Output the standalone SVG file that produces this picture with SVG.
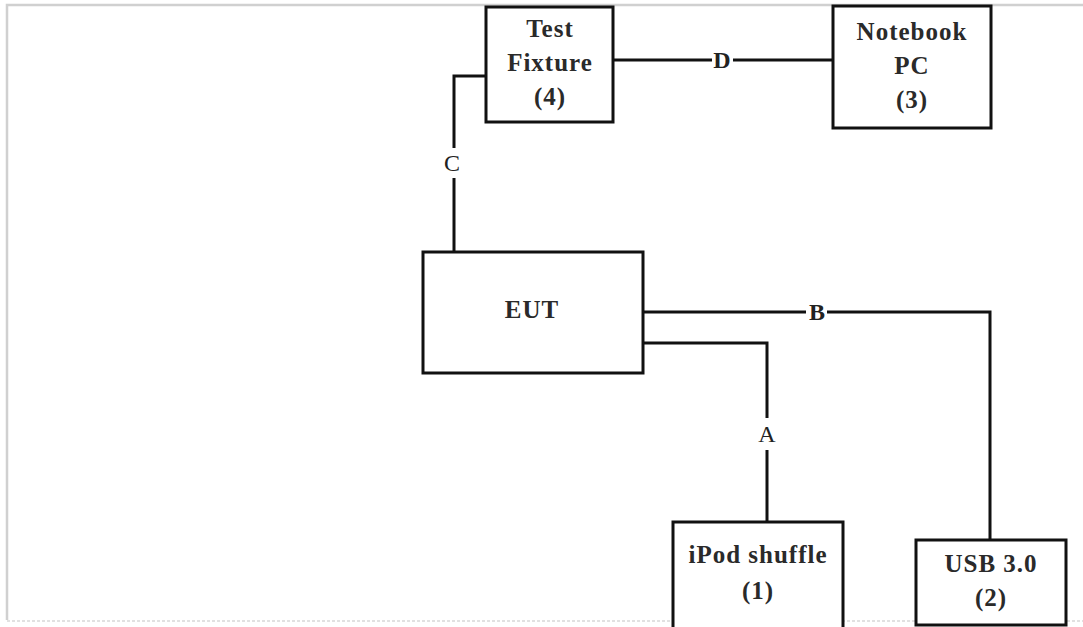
<svg xmlns="http://www.w3.org/2000/svg" width="1083" height="627" viewBox="0 0 1083 627">
<style>
.box{fill:#fff;stroke:#111;stroke-width:3}
.t{font-family:"Liberation Serif","Times New Roman",serif;font-size:25px;font-weight:bold;fill:#2a2a2a;text-anchor:middle;letter-spacing:1px}
.w{fill:none;stroke:#111;stroke-width:3}
.lbl{font-family:"Liberation Serif","Times New Roman",serif;font-size:24px;fill:#222;text-anchor:middle}
.frame{fill:none;stroke:#d0d0d0;stroke-width:2.5}
</style>
<rect width="1083" height="627" fill="#fff"/>
<path class="frame" d="M7,620 V5 H1083"/>
<line x1="7" y1="621" x2="1083" y2="621" stroke="#d8d8d8" stroke-width="1.5" stroke-dasharray="3,2"/>
<g id="connectors">
<path class="w" d="M613,60 H712 M733,60 H833"/>
<path class="w" d="M486,76 H454 V148 M454,178 V252"/>
<path class="w" d="M643,312 H806 M827,312 H990 V540"/>
<path class="w" d="M643,343 H767 V418 M767,450 V522"/>
<text class="lbl" x="452" y="171">C</text>
<text class="lbl" x="722" y="68" font-weight="bold">D</text>
<text class="lbl" x="817" y="320" font-weight="bold">B</text>
<text class="lbl" x="767" y="442">A</text>
</g>
<g id="test-fixture">
<rect class="box" x="486" y="7" width="127" height="115"/>
<text class="t" x="550" y="37">Test</text>
<text class="t" x="550" y="71">Fixture</text>
<text class="t" x="550" y="105">(4)</text>
</g>
<g id="notebook-pc">
<rect class="box" x="833" y="6" width="158" height="122"/>
<text class="t" x="912" y="40">Notebook</text>
<text class="t" x="912" y="74">PC</text>
<text class="t" x="912" y="108">(3)</text>
</g>
<g id="eut">
<rect class="box" x="423" y="252" width="220" height="121"/>
<text class="t" x="532" y="318">EUT</text>
</g>
<g id="ipod-shuffle">
<rect class="box" x="673" y="522" width="170" height="110"/>
<text class="t" x="758" y="563">iPod shuffle</text>
<text class="t" x="758" y="599">(1)</text>
</g>
<g id="usb">
<rect class="box" x="916" y="540" width="150" height="85"/>
<text class="t" x="991" y="572">USB 3.0</text>
<text class="t" x="991" y="606">(2)</text>
</g>
</svg>
